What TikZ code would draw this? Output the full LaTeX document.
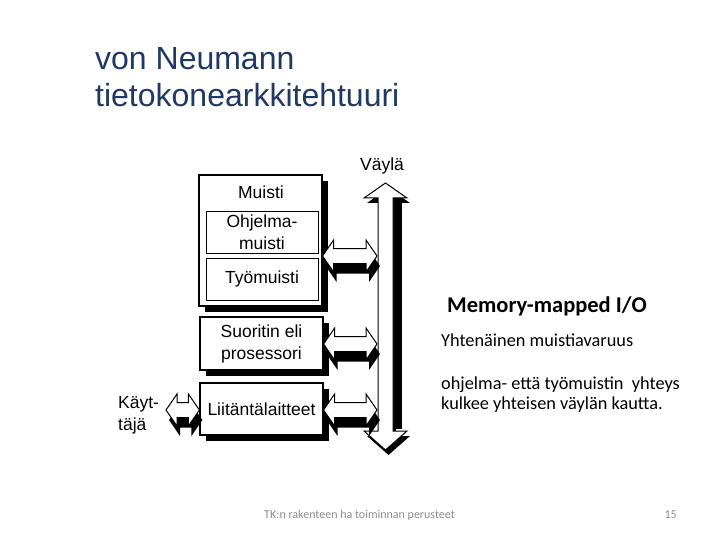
\documentclass[tikz,border=0pt]{standalone}
\usepackage{fontspec}
\setmainfont{Liberation Sans}
\newfontfamily\calibri{Carlito}
\usetikzlibrary{calc,shadows}
\definecolor{titleblue}{RGB}{31,56,100}
\definecolor{footgrey}{RGB}{140,140,140}

\newcommand\fatarrow[5]{% #1 left tip, #2 right tip, #3 style, #4 dx, #5 dy (canvas, pt)
  \path[#3] let \p1=#1, \p2=#2, \n1={#4}, \n2={#5} in
    (\x1+\n1 pt,\y1+\n2 pt) -- (\x1+11pt+\n1 pt,\y1+16pt+\n2 pt) -- (\x1+11pt+\n1 pt,\y1+7.5pt+\n2 pt)
    -- (\x2-11pt+\n1 pt,\y1+7.5pt+\n2 pt) -- (\x2-11pt+\n1 pt,\y1+16pt+\n2 pt) -- (\x2+\n1 pt,\y1+\n2 pt)
    -- (\x2-11pt+\n1 pt,\y1-16pt+\n2 pt) -- (\x2-11pt+\n1 pt,\y1-7.5pt+\n2 pt)
    -- (\x1+11pt+\n1 pt,\y1-7.5pt+\n2 pt) -- (\x1+11pt+\n1 pt,\y1-16pt+\n2 pt) -- cycle;}

\begin{document}
\begin{tikzpicture}[x=1pt,y=-1pt,
  box/.style={draw=black, line width=1.2pt, fill=white, inner sep=0pt,
    drop shadow={opacity=1, fill=black, shadow xshift=6pt, shadow yshift=-6pt}},
  inbox/.style={draw=black, line width=0.8pt, fill=white, inner sep=0pt},
  shade/.style={fill=black},
  fat/.style={draw=black, line width=1pt, fill=white, line join=miter},
  lbl/.style={font=\fontsize{17.5}{22}\selectfont, align=center, inner sep=0pt},
  body/.style={font=\calibri\fontsize{18.3}{20}\selectfont, inner sep=0pt, anchor=base west},
]
\useasboundingbox (0,0) rectangle (720,540);

% title
\node[anchor=base west, inner sep=0pt, font=\fontsize{32}{38}\selectfont, text=titleblue] (t1) at (95,70) {von Neumann};
\node[anchor=base west, inner sep=0pt, font=\fontsize{32}{38}\selectfont, text=titleblue] (t2) at (95,107) {tietokonearkkitehtuuri};

% bus
\coordinate (bustop) at (385.5,183);
\coordinate (busbot) at (385.5,450);
\path[shade] (388.5,188) -- (410,203) -- (396,203) -- (396,436) -- (410,436)
    -- (388.5,455) -- (367,436) -- (381,436) -- (381,203) -- (367,203) -- cycle;
\fill[black] (393,200) rectangle (401.5,429);
\path[fat] (bustop) -- (407,198) -- (393,198) -- (393,431) -- (407,431)
    -- (busbot) -- (364,431) -- (378,431) -- (378,198) -- (364,198) -- cycle;
\node[lbl] (vayla) at (382,166) {Väylä};
\coordinate (busL) at (377,0);

% boxes
\node[box, minimum width=123pt, minimum height=131pt] (muisti) at (260.5,240.5) {};
\node[lbl] (muistilbl) at (261,192) {Muisti};
\node[inbox, minimum width=112pt, minimum height=42pt, lbl] (ohj) at (262,232) {Ohjelma-\\muisti};
\node[inbox, minimum width=112pt, minimum height=42pt, lbl] (tyo) at (262,279) {Työmuisti};
\node[box, minimum width=123pt, minimum height=53pt, lbl] (suor) at (261.5,343.5) {Suoritin eli\\prosessori};
\node[box, minimum width=123pt, minimum height=52pt, lbl] (liit) at (261.5,409) {Liitäntälaitteet};

% connectors
\coordinate (m1) at (muisti.east |- 0,256);
\coordinate (m2) at (busL |- 0,256);
\coordinate (s1) at (suor.east |- 0,344);
\coordinate (s2) at (busL |- 0,344);
\coordinate (l1) at (liit.east |- 0,410);
\coordinate (l2) at (busL |- 0,410);
\coordinate (user) at (166,410);
\foreach \a/\b in {m1/m2, s1/s2, l1/l2, user/liit.west}{
  \fatarrow{(\a)}{(\b)}{shade}{3}{-10}
  \fatarrow{(\a)}{(\b)}{fat}{0}{0}
}
\node[lbl, align=left, anchor=west] (kayt) at (118,415) {Käyt-\\täjä};

% right text
\node[anchor=base west, inner sep=0pt, font=\calibri\bfseries\fontsize{22.5}{26}\selectfont] (mmio) at (447,312.5) {Memory-mapped I/O};
\node[body] (yht) at (441,346.7) {Yhtenäinen muistiavaruus};
\node[body] (oh1) at (441,389.5) {ohjelma- että työmuistin\ \ yhteys};
\node[body] (oh2) at (441,409.5) {kulkee yhteisen väylän kautta.};

% footer
\node[anchor=west, inner sep=0pt, font=\calibri\fontsize{12}{14}\selectfont, text=footgrey] (foot) at (264,515) {TK:n rakenteen ha toiminnan perusteet};
\node[anchor=east, inner sep=0pt, font=\calibri\fontsize{12}{14}\selectfont, text=footgrey] (page) at (677,515) {15};
\end{tikzpicture}
\end{document}
